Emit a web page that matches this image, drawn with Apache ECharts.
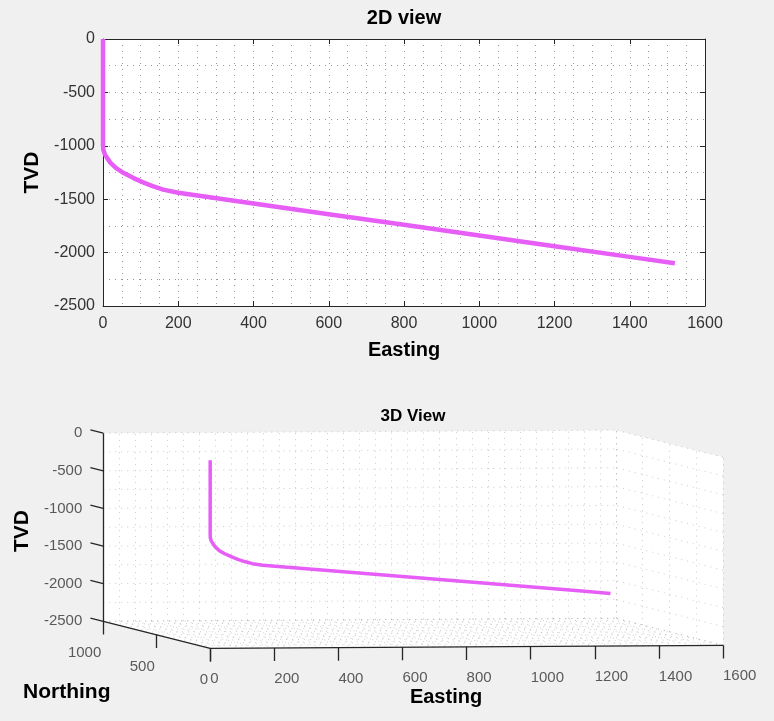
<!DOCTYPE html>
<html><head><meta charset="utf-8">
<script src="https://cdn.jsdelivr.net/npm/echarts@6/dist/echarts.min.js"></script>
<style>html,body{margin:0;padding:0;background:#f0f0f0;}#c{width:774px;height:721px;}</style>
</head><body><div id="c"></div>
<script>
// ---- data ----
const easting  = [0, 0, 1, 5, 12, 20, 35, 55, 80, 105, 130, 160, 200, 400, 600, 800, 1000, 1200, 1400, 1520];
const northing = [0, 0, 1, 3, 6, 11, 19, 29, 43, 56, 69, 85, 107, 214, 320, 427, 534, 641, 748, 812];
const tvd      = [0, -1000, -1040, -1080, -1120, -1160, -1210, -1255, -1300, -1340, -1375, -1410, -1440, -1540, -1640, -1740, -1840, -1940, -2040, -2100];
const eastTicks  = [0, 200, 400, 600, 800, 1000, 1200, 1400, 1600];
const northTicks = [0, 500, 1000];
const tvdTicks   = [0, -500, -1000, -1500, -2000, -2500];
const title2D = '2D view', title3D = '3D View';

// ---- style ----
const FONT = 'Liberation Sans, Arial, Helvetica, sans-serif';
const LINE_COLOR = '#e65ef6';
const AXIS_COLOR = '#262626';
const GRID_STYLE = {color: '#999999', width: 1, type: [1, 5]};

// ---- 3D box & projection (orthographic view) ----
const E0 = eastTicks[0], E1 = eastTicks[eastTicks.length - 1];
const N0 = northTicks[0], N1 = northTicks[northTicks.length - 1];
const T0 = tvdTicks[tvdTicks.length - 1], T1 = tvdTicks[0];
function proj(e, n, t) { return [e - 0.3337 * n, t + 0.025 * e + 0.359 * n]; }

const gridSegs = [];
for (let e = E0; e <= E1; e += 50) gridSegs.push([proj(e, N1, T0), proj(e, N1, T1)]);
for (let t = T0; t <= T1; t += 250) gridSegs.push([proj(E0, N1, t), proj(E1, N1, t)]);
for (let n = N0; n <= N1; n += 250) gridSegs.push([proj(E1, n, T0), proj(E1, n, T1)]);
for (let t = T0; t <= T1; t += 250) gridSegs.push([proj(E1, N0, t), proj(E1, N1, t)]);
for (let e = E0; e <= E1; e += 50) gridSegs.push([proj(e, N0, T0), proj(e, N1, T0)]);
for (let n = N0; n <= N1; n += 100) gridSegs.push([proj(E0, n, T0), proj(E1, n, T0)]);

const axisSegs = [
  [proj(E0, N1, T0), proj(E0, N1, T1)],
  [proj(E0, N0, T0), proj(E0, N1, T0)],
  [proj(E0, N0, T0), proj(E1, N0, T0)]
];
tvdTicks.forEach(t => axisSegs.push([proj(E0, N1, t), proj(E0, N1 + 120, t)]));
northTicks.forEach(n => axisSegs.push([proj(E0, n, T0), proj(E0, n, T0 - 175)]));
eastTicks.forEach(e => axisSegs.push([proj(e, N0, T0), proj(e, N0, T0 - 175)]));

const faces = [
  [proj(E0, N1, T1), proj(E1, N1, T1), proj(E1, N1, T0), proj(E0, N1, T0)],
  [proj(E1, N1, T1), proj(E1, N0, T1), proj(E1, N0, T0), proj(E1, N1, T0)],
  [proj(E0, N1, T0), proj(E1, N1, T0), proj(E1, N0, T0), proj(E0, N0, T0)]
];

function labelSeries(data, align, offset) {
  return {
    type: 'scatter', xAxisIndex: 2, yAxisIndex: 2, symbolSize: 0, silent: true, z: 5,
    data: data,
    label: {show: true, position: 'inside', formatter: '{b}', align: align, verticalAlign: 'middle',
            offset: offset, color: '#333', fontSize: 15, fontFamily: FONT}
  };
}

const chart = echarts.init(document.getElementById('c'), null, {renderer: 'canvas'});
const axisLbl2D = {color: '#333', fontSize: 16, fontFamily: FONT, formatter: v => String(v)};
chart.setOption({
  backgroundColor: '#f0f0f0',
  animation: false,
  grid: [
    {left: 103, right: 69, top: 39, bottom: 415, show: true, backgroundColor: '#fff', borderWidth: 0},
    {left: 82, right: 19, top: 415, bottom: 20, show: false}
  ],
  xAxis: [
    {gridIndex: 0, type: 'value', min: E0, max: E1, interval: 200, position: 'bottom',
     axisLine: {onZero: false, lineStyle: {color: AXIS_COLOR}},
     axisTick: {inside: true, length: 5, lineStyle: {color: AXIS_COLOR}},
     axisLabel: Object.assign({margin: 10}, axisLbl2D),
     splitLine: {show: true, lineStyle: GRID_STYLE},
     minorTick: {show: false, splitNumber: 4},
     minorSplitLine: {show: true, lineStyle: GRID_STYLE},
     name: 'Easting', nameLocation: 'middle', nameGap: 34,
     nameTextStyle: {fontSize: 20, fontWeight: 'bold', color: '#000', fontFamily: FONT}},
    {gridIndex: 0, type: 'value', min: E0, max: E1, interval: 200, position: 'top',
     axisLine: {onZero: false, lineStyle: {color: AXIS_COLOR}},
     axisTick: {inside: true, length: 5, lineStyle: {color: AXIS_COLOR}},
     axisLabel: {show: false}, splitLine: {show: false}},
    {gridIndex: 1, type: 'value', min: -400, max: 1700, show: false}
  ],
  yAxis: [
    {gridIndex: 0, type: 'value', min: T0, max: T1, interval: 500, position: 'left',
     axisLine: {show: true, onZero: false, lineStyle: {color: AXIS_COLOR}},
     axisTick: {show: true, inside: true, length: 5, lineStyle: {color: AXIS_COLOR}},
     axisLabel: Object.assign({margin: 8}, axisLbl2D),
     splitLine: {show: true, lineStyle: GRID_STYLE},
     minorTick: {show: false, splitNumber: 2},
     minorSplitLine: {show: true, lineStyle: GRID_STYLE},
     name: 'TVD', nameLocation: 'middle', nameGap: 50,
     nameTextStyle: {fontSize: 21, fontWeight: 'bold', color: '#000', fontFamily: FONT}},
    {gridIndex: 0, type: 'value', min: T0, max: T1, interval: 500, position: 'right',
     axisLine: {show: true, onZero: false, lineStyle: {color: AXIS_COLOR}},
     axisTick: {show: true, inside: true, length: 5, lineStyle: {color: AXIS_COLOR}},
     axisLabel: {show: false}, splitLine: {show: false}},
    {gridIndex: 1, type: 'value', min: -3200, max: 600, show: false}
  ],
  graphic: [
    {type: 'text', x: 404, y: 18, style: {text: title2D, align: 'center', verticalAlign: 'middle', fontSize: 20, fontWeight: 'bold', fontFamily: FONT, fill: '#000'}},
    {type: 'text', x: 413, y: 416, style: {text: title3D, align: 'center', verticalAlign: 'middle', fontSize: 17, fontWeight: 'bold', fontFamily: FONT, fill: '#000'}},
    {type: 'text', x: 22, y: 531, rotation: Math.PI / 2, style: {text: 'TVD', align: 'center', verticalAlign: 'middle', fontSize: 21, fontWeight: 'bold', fontFamily: FONT, fill: '#000'}},
    {type: 'text', x: 23, y: 692, style: {text: 'Northing', align: 'left', verticalAlign: 'middle', fontSize: 21, fontWeight: 'bold', fontFamily: FONT, fill: '#000'}},
    {type: 'text', x: 446, y: 697, style: {text: 'Easting', align: 'center', verticalAlign: 'middle', fontSize: 20, fontWeight: 'bold', fontFamily: FONT, fill: '#000'}}
  ],
  series: [
    {type: 'line', xAxisIndex: 0, yAxisIndex: 0, showSymbol: false, silent: true, z: 4,
     data: easting.map((e, i) => [e, tvd[i]]),
     lineStyle: {color: LINE_COLOR, width: 4.5}},
    {type: 'custom', xAxisIndex: 2, yAxisIndex: 2, silent: true, z: 0, data: [[0, 0]],
     renderItem: (params, api) => ({type: 'group', children: faces.map(f => ({
       type: 'polygon', shape: {points: f.map(p => api.coord(p))}, style: {fill: '#fff', stroke: null}}))})},
    {type: 'lines', coordinateSystem: 'cartesian2d', xAxisIndex: 2, yAxisIndex: 2, silent: true, z: 1,
     data: gridSegs.map(s => ({coords: s})), lineStyle: GRID_STYLE},
    {type: 'lines', coordinateSystem: 'cartesian2d', xAxisIndex: 2, yAxisIndex: 2, silent: true, z: 2,
     data: axisSegs.map(s => ({coords: s})), lineStyle: {color: AXIS_COLOR, width: 1.3, type: 'solid', opacity: 1}},
    {type: 'line', xAxisIndex: 2, yAxisIndex: 2, showSymbol: false, silent: true, z: 4,
     data: easting.map((e, i) => proj(e, northing[i], tvd[i])),
     lineStyle: {color: LINE_COLOR, width: 3.5}},
    labelSeries(eastTicks.map(e => ({name: String(e), value: proj(e, N0, T0)})), 'left', [0, 31]),
    labelSeries(northTicks.map(n => ({name: String(n), value: proj(E0, n, T0)})), 'right', [-2, 32]),
    labelSeries(tvdTicks.map(t => ({name: String(t), value: proj(E0, N1, t)})), 'right', [-21, 0])
  ]
});
</script></body></html>
